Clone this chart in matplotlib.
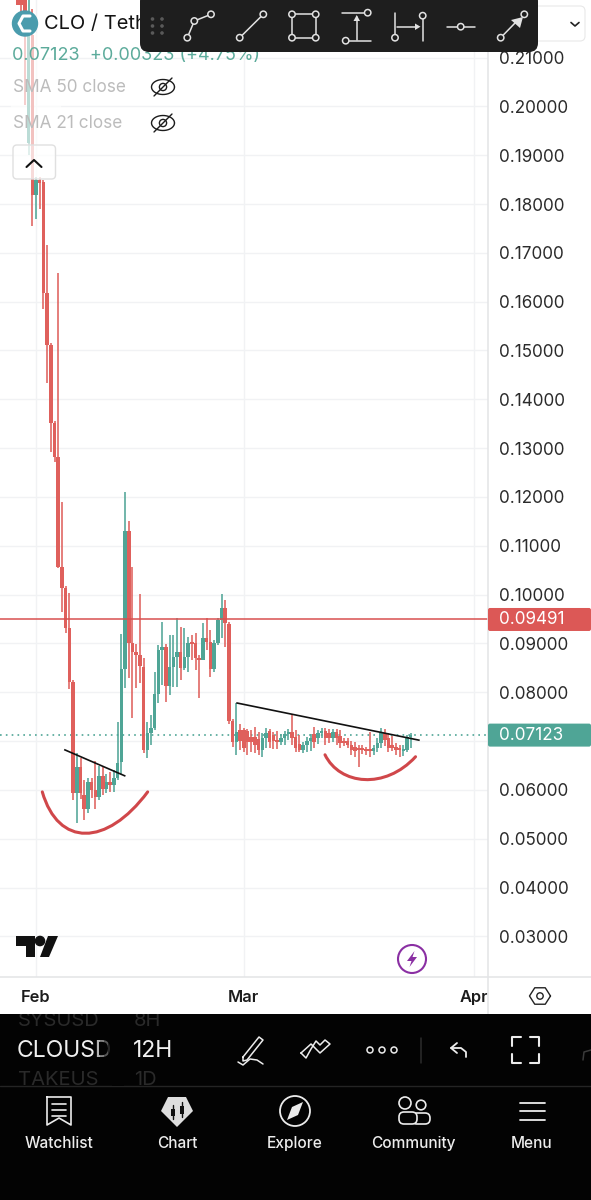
#!/usr/bin/python3
# CLO / Tether 12H candles, phone screenshot layout

import matplotlib
matplotlib.use('Agg')
import matplotlib.pyplot as plt
import matplotlib.patches as mpatches
from matplotlib.path import Path
import numpy as np

plt.rcParams['font.family'] = ['Inter', 'DejaVu Sans']

# candle number, 0 is Feb 1st, two candles a day
first_candle = -5

opens = [.2300, .2300, .2280, .1925, .2146, .1818, .1849, .1845, .1618, .1511,
         .1351, .1282, .1057, .1014, .0932, .0821, .0594, .0647, .0590, .0561,
         .0616, .0600, .0585, .0628, .0602, .0616, .0610, .0624, .0657, .0848,
         .1130, .0901, .0883, .0876, .0852, .0682, .0717, .0727, .0796, .0887,
         .0893, .0813, .0852, .0872, .0883, .0850, .0872, .0903, .0901, .0870,
         .0866, .0911, .0903, .0848, .0901, .0948, .0973, .0940, .0741, .0698,
         .0723, .0723, .0721, .0709, .0709, .0704, .0682, .0707, .0721, .0713,
         .0702, .0698, .0707, .0715, .0719, .0709, .0694, .0682, .0692, .0700,
         .0715, .0707, .0717, .0721, .0717, .0707, .0719, .0711, .0700, .0700,
         .0692, .0688, .0686, .0686, .0684, .0682, .0680, .0686, .0696, .0717,
         .0707, .0692, .0688, .0686, .0680, .0682, .0709]
highs = [.2350, .2350, .2350, .2300, .2200, .1855, .1855, .1850, .1716, .1515,
         .1355, .1659, .1190, .1018, .1003, .0825, .0675, .0665, .0620, .0624,
         .0624, .0659, .0649, .0647, .0632, .0637, .0641, .0739, .0919, .1210,
         .1151, .1057, .0899, .1001, .0870, .0739, .0753, .0841, .0897, .0944,
         .0899, .0917, .0917, .0952, .0934, .0932, .0913, .0917, .0921, .0876,
         .0942, .0952, .0928, .0907, .0952, .1001, .0989, .0944, .0745, .0778,
         .0735, .0727, .0725, .0723, .0729, .0719, .0717, .0727, .0725, .0719,
         .0721, .0715, .0721, .0725, .0753, .0723, .0713, .0698, .0709, .0715,
         .0729, .0723, .0727, .0727, .0725, .0725, .0725, .0723, .0707, .0707,
         .0700, .0698, .0692, .0692, .0688, .0719, .0692, .0707, .0727, .0725,
         .0717, .0711, .0696, .0692, .0692, .0713, .0717]
lows = [.2208, .2150, .2003, .1900, .1755, .1769, .1790, .1585, .1433, .1292,
        .1272, .1055, .0964, .0921, .0807, .0579, .0532, .0581, .0538, .0553,
        .0583, .0561, .0579, .0590, .0594, .0596, .0596, .0620, .0632, .0809,
        .0829, .0747, .0809, .0819, .0676, .0665, .0692, .0723, .0778, .0815,
        .0780, .0794, .0811, .0811, .0825, .0846, .0841, .0866, .0846, .0788,
        .0866, .0887, .0831, .0841, .0897, .0911, .0893, .0735, .0688, .0672,
        .0682, .0678, .0672, .0678, .0676, .0672, .0667, .0686, .0686, .0684,
        .0684, .0692, .0692, .0702, .0692, .0678, .0678, .0676, .0678, .0680,
        .0686, .0694, .0707, .0692, .0696, .0698, .0692, .0686, .0690, .0686,
        .0672, .0667, .0647, .0674, .0672, .0667, .0672, .0678, .0686, .0690,
        .0678, .0680, .0672, .0667, .0670, .0678, .0686]
closes = [.2208, .2208, .2190, .2146, .1818, .1849, .1843, .1618, .1511, .1351,
          .1282, .1057, .1014, .0932, .0821, .0594, .0647, .0594, .0561, .0616,
          .0600, .0585, .0628, .0602, .0616, .0610, .0624, .0655, .0848, .1130,
          .0901, .0883, .0876, .0854, .0682, .0717, .0727, .0796, .0887, .0893,
          .0813, .0852, .0872, .0883, .0850, .0872, .0901, .0899, .0870, .0866,
          .0911, .0903, .0848, .0901, .0948, .0973, .0942, .0741, .0698, .0719,
          .0700, .0686, .0698, .0698, .0692, .0682, .0707, .0717, .0698, .0700,
          .0698, .0707, .0715, .0719, .0707, .0686, .0682, .0692, .0700, .0707,
          .0698, .0717, .0721, .0707, .0707, .0719, .0707, .0696, .0696, .0692,
          .0682, .0680, .0682, .0682, .0680, .0680, .0686, .0696, .0717, .0702,
          .0686, .0686, .0682, .0682, .0684, .0709, .07123]

price_ticks = [.03, .04, .05, .06, .07, .08, .09, .10, .11, .12, .13, .14, .15,
               .16, .17, .18, .19, .20, .21]
month_ticks = [0, 56, 118]
month_labels = ['Feb', 'Mar', 'Apr']
last_price = 0.07123
level_price = 0.09491

# hand drawn lines on the chart (candle number, price)
trend_a_x = [7.8, 23.9]
trend_a_y = [.0682, .0629]
trend_b_x = [54.2, 103.2]
trend_b_y = [.0778, .0702]
bowl_a_x = [1.7, 6.0, 19.0, 30.1]
bowl_a_y = [.0596, .0483, .0483, .0596]
bowl_b_x = [77.9, 81.9, 94.1, 102.3]
bowl_b_y = [.0672, .0610, .0600, .0668]

nav_labels = ['Watchlist', 'Chart', 'Explore', 'Community', 'Menu']

RED = '#df605c'
GREEN = '#4fa596'
LINE_RED = '#d9504f'
CURVE_RED = '#d0474a'
GRID = '#f1f2f4'
BORDER = '#e3e4e6'
ICON = '#e2e2e2'

Y_TOP = 0.22178
Y_BOTTOM = 0.02169


def priceToPx(price):
    return (Y_TOP - price) / (Y_TOP - Y_BOTTOM) * 977.0


def drawCandles(ax):
    xs = np.arange(len(opens)) + first_candle
    op, hi, lo, cl = [np.array(a) for a in (opens, highs, lows, closes)]
    colours = [GREEN if c >= o else RED for o, c in zip(op, cl)]
    ax.vlines(xs, lo, hi, colors=colours, linewidth=1.2, alpha=0.95, zorder=3)
    heights = np.maximum(np.abs(cl - op), 0.0004)
    ax.bar(xs, heights, bottom=np.minimum(op, cl), width=0.95, color=colours,
           linewidth=0, zorder=4)


def drawChart(fig):
    ax = fig.add_axes([0, 223 / 1200, 487.5 / 591, 977 / 1200])
    ax.set_xlim(-36 / 3.71, 451.5 / 3.71)
    ax.set_ylim(Y_BOTTOM, Y_TOP)
    for s in ax.spines.values():
        s.set_visible(False)
    ax.yaxis.tick_right()
    ax.set_yticks(price_ticks)
    # the 0.07 label sits behind the last price tag in the app
    ax.set_yticklabels(['' if p == .07 else '%.5f' % p for p in price_ticks],
                       fontsize=12.3, color='#2b2b2b')
    ax.set_xticks(month_ticks)
    ax.set_xticklabels(month_labels, fontsize=11.8, fontweight='semibold', color='#1c1c1c')
    ax.tick_params(axis='y', length=0, pad=8)
    ax.tick_params(axis='x', length=0, pad=9.5)
    ax.grid(True, color=GRID, linewidth=1.0, zorder=0)
    ax.set_axisbelow(True)

    drawCandles(ax)

    ax.axhline(level_price, color=LINE_RED, linewidth=1.1, zorder=5)
    ax.axhline(last_price, color=GREEN, linewidth=1.2, linestyle=(0, (1, 2.5)), zorder=2)
    ax.plot(trend_a_x, trend_a_y, color='#111111', linewidth=1.2, zorder=6)
    ax.plot(trend_b_x, trend_b_y, color='#111111', linewidth=1.2, zorder=6)

    codes = [Path.MOVETO, Path.CURVE4, Path.CURVE4, Path.CURVE4]
    for xs, ys in [(bowl_a_x, bowl_a_y), (bowl_b_x, bowl_b_y)]:
        path = Path(list(zip(xs, ys)), codes)
        ax.add_patch(mpatches.PathPatch(path, fill=False, edgecolor=CURVE_RED,
                                        linewidth=2.2, capstyle='round', zorder=6))
    return ax


def poly(ui, pts, closed=False, z=10, **kw):
    ui.add_patch(mpatches.Polygon(pts, closed=closed, zorder=z, **kw))


def line(ui, xs, ys, color=ICON, lw=1.1, z=12):
    ui.plot(xs, ys, color=color, linewidth=lw, zorder=z, solid_capstyle='round',
            solid_joinstyle='round')


def ring(ui, x, y, r=3.2, color=ICON, lw=1.1, face='#1e1e1e', z=13):
    ui.add_patch(mpatches.Circle((x, y), r, facecolor=face, edgecolor=color, linewidth=lw, zorder=z))


def rounded(ui, x0, y0, x1, y1, rad, z=10, **kw):
    ui.add_patch(mpatches.FancyBboxPatch((x0 + rad, y0 + rad), x1 - x0 - 2 * rad, y1 - y0 - 2 * rad,
                                         boxstyle='round,pad=%g,rounding_size=%g' % (rad, rad),
                                         zorder=z, **kw))


def drawToolbar(ui):
    # dropdown peeking out from behind
    rounded(ui, 520, 6, 585, 41, 5, z=8, facecolor='white', edgecolor='#e8e8e8', linewidth=0.8)
    line(ui, [571, 575, 579], [22.5, 26, 22.5], color='#222222', lw=1.2, z=9)
    rounded(ui, 140, -8, 538, 52, 9, z=10, facecolor='#1e1e1e', edgecolor='none')
    for x in (152.5, 162):
        for y in (19, 26, 33):
            ui.add_patch(mpatches.Circle((x, y), 1.1, color='#5a5a5a', zorder=12))

    line(ui, [187.3, 194.3, 211], [37.7, 21, 14.3])
    for x, y in [(187.3, 37.7), (194.3, 21), (211, 14.3)]:
        ring(ui, x, y)
    line(ui, [239.7, 263.3], [37.7, 14.3])
    ring(ui, 239.7, 37.7)
    ring(ui, 263.3, 14.3)
    line(ui, [292, 315.7, 315.7, 292, 292], [14.3, 14.3, 37.7, 37.7, 14.3])
    for x, y in [(292, 14.3), (315.7, 14.3), (292, 37.7), (315.7, 37.7)]:
        ring(ui, x, y)
    line(ui, [342, 364], [12.7, 12.7])
    ring(ui, 367.7, 12.7)
    line(ui, [349, 370.7], [40.7, 40.7])
    ring(ui, 345.7, 40.7)
    line(ui, [356.7, 356.7], [40, 17])
    poly(ui, [(353.5, 21), (360, 21), (356.7, 15)], closed=True, z=12, facecolor=ICON, edgecolor='none')
    line(ui, [395, 395], [12.7, 35])
    ring(ui, 395, 37.7)
    line(ui, [422.7, 422.7], [18, 40.7])
    ring(ui, 422.7, 15.7)
    line(ui, [397, 416], [26.7, 26.7])
    poly(ui, [(415, 23.5), (415, 30), (420.5, 26.7)], closed=True, z=12, facecolor=ICON, edgecolor='none')
    line(ui, [446.7, 475], [26.7, 26.7])
    ring(ui, 460.7, 26.7)
    line(ui, [500.7, 516], [37.7, 22])
    poly(ui, [(511, 20), (520, 28), (523, 17)], closed=True, z=12, facecolor=ICON, edgecolor='none')
    ring(ui, 500.7, 37.7)
    ring(ui, 524.3, 14.3)


def drawEye(ui, y):
    x = 163
    t = np.linspace(0, 2 * np.pi, 40)
    line(ui, x + 11.5 * np.cos(t), y + 7.5 * np.sin(t), color='#1c1c1c', lw=1.0, z=9)
    ring(ui, x, y, r=3.6, color='#1c1c1c', lw=1.0, face='none', z=9)
    line(ui, [x - 9, x + 9], [y + 9, y - 9], color='#1c1c1c', lw=1.0, z=9)


def drawHeader(ui):
    ui.add_patch(mpatches.Rectangle((11, 33), 50, 112, facecolor='white', alpha=0.62,
                                    edgecolor='none', zorder=1))
    ui.add_patch(mpatches.Circle((25, 23.5), 12.5, color='#4a9cad', zorder=3))
    line(ui, [30, 23, 19, 23, 30], [16, 16, 23.5, 31, 31], color='white', lw=2.2, z=4)
    ui.text(43.5, 24, 'CLO / Tether', fontsize=14.4, color='#141414', va='center', zorder=3)
    ui.text(12, 56, '0.07123  +0.00323 (+4.75%)', fontsize=13, color='#5cab9b',
            va='center', zorder=3)
    ui.text(13, 87, 'SMA 50 close', fontsize=12.4, color='#bcbcbc', va='center', zorder=3)
    ui.text(13, 123, 'SMA 21 close', fontsize=12.4, color='#bcbcbc', va='center', zorder=3)
    drawEye(ui, 87)
    drawEye(ui, 123)
    rounded(ui, 13, 145, 55.5, 179, 4, z=3, facecolor=(1, 1, 1, 0.78), edgecolor='#e0e0e0', linewidth=1.0)
    line(ui, [26.5, 34, 41.5], [167, 160, 167], color='#111111', lw=1.5, z=4)

    # TradingView mark and the bolt
    poly(ui, [(16, 936), (35, 936), (35, 957), (26, 957), (26, 946), (16, 946)], closed=True,
         z=4, facecolor='#111111', edgecolor='none')
    ui.add_patch(mpatches.Circle((40, 941), 4.6, color='#111111', zorder=4))
    poly(ui, [(48, 936), (58, 936), (49, 957), (40, 957)], closed=True, z=4,
         facecolor='#111111', edgecolor='none')
    ui.add_patch(mpatches.Circle((412, 959), 14, facecolor='white', edgecolor='#8a2fa3',
                                 linewidth=1.5, zorder=4))
    poly(ui, [(414.5, 951), (407, 961), (411.5, 961), (409.5, 967), (417, 957), (412.5, 957)],
         closed=True, z=5, facecolor='#8a2fa3', edgecolor='none')


def drawAxesFrame(ui):
    ui.add_patch(mpatches.Rectangle((488, 978), 103, 36, facecolor='white', edgecolor='none', zorder=1))
    line(ui, [0, 591], [977, 977], color=BORDER, lw=1.1, z=2)
    line(ui, [488, 488], [0, 1014], color=BORDER, lw=1.1, z=2)
    # settings hexagon
    t = np.radians(np.arange(0, 361, 60))
    line(ui, 540 + 10.5 * np.cos(t), 996 + 9.5 * np.sin(t), color='#222222', lw=1.0, z=3)
    ring(ui, 540, 996, r=3.2, color='#222222', lw=1.0, face='white', z=3)

    for price, colour in [(level_price, '#dc5856'), (last_price, GREEN)]:
        y = priceToPx(price)
        rounded(ui, 488, y - 11.5, 591, y + 11.5, 2, z=3, facecolor=colour, edgecolor='none')
        ui.text(499, y, '%.5f' % price, fontsize=12.3, color='white', va='center', zorder=4)


def drawBottomBar(ui):
    panel = mpatches.Rectangle((0, 1014), 591, 186, facecolor='#030303', edgecolor='none', zorder=6)
    ui.add_patch(panel)
    row = '#2a2a2a'
    for txt, x, y, colour, size in [('SYSUSD', 18, 1021, row, 14.5), ('8H', 134, 1021, row, 14.5),
                                    ('CLOUSD', 17, 1051, '#f0f0f0', 16.5), ('12H', 133, 1051, '#f0f0f0', 16.5),
                                    ('TAKEUS', 18, 1080, row, 14.5), ('1D', 134, 1080, row, 14.5)]:
        t = ui.text(x, y, txt, fontsize=size, color=colour, va='center', zorder=7, clip_on=True)
        t.set_clip_path(panel)
    for k, a in enumerate([0.25, 0.45, 0.65, 0.85]):
        ui.add_patch(mpatches.Rectangle((96 + k * 4, 1040), 4, 22, facecolor='#030303', alpha=a,
                                        edgecolor='none', zorder=8))
    ui.add_patch(mpatches.Rectangle((112, 1016), 12, 70, facecolor='#030303', edgecolor='none', zorder=8))
    line(ui, [0, 591], [1086, 1086], color='#242424', lw=1.0, z=7)

    c = '#ececec'
    # pen
    line(ui, [243, 259, 263, 247, 243, 243], [1057, 1037, 1040, 1060, 1061, 1057], color=c, z=9)
    line(ui, [238, 243, 250, 257, 263], [1062, 1065, 1059, 1060, 1064], color=c, z=9)
    # double chevron
    line(ui, [301, 311, 316, 320, 330, 325, 320, 316, 311, 306, 301],
         [1053, 1044, 1049, 1053, 1044, 1040, 1045, 1041, 1049, 1058, 1053], color=c, z=9)
    for x in (370, 382, 394):
        ring(ui, x, 1050, r=3.0, color=c, lw=1.1, face='#030303', z=9)
    line(ui, [421, 421], [1038, 1063], color='#2c2c2c', z=9)
    # undo
    line(ui, [466, 466, 461, 451], [1057, 1052, 1048, 1048], color=c, lw=1.3, z=9)
    line(ui, [457, 451, 457], [1043, 1048, 1053], color=c, lw=1.3, z=9)
    # fullscreen corners
    for sx, sy, cx, cy in [(1, 1, 512, 1037), (-1, 1, 539, 1037), (1, -1, 512, 1063), (-1, -1, 539, 1063)]:
        line(ui, [cx + sx * 9, cx, cx, cx], [cy, cy, cy, cy + sy * 9], color=c, lw=1.5, z=9)
    line(ui, [583, 584, 591], [1060, 1052, 1050], color='#3a3a3a', z=9)

    for label, x in zip(nav_labels, [59, 177, 295, 413, 532]):
        ui.text(x, 1142, label, fontsize=11.1, fontweight='medium', color='#ededed', ha='center',
                va='center_baseline', zorder=9)

    # watchlist
    line(ui, [47, 71, 71, 59, 47, 47], [1097, 1097, 1125, 1118, 1125, 1097], color=c, lw=1.2, z=9)
    for y in (1104, 1110, 1116):
        line(ui, [52, 66], [y, y], color=c, lw=1.2, z=9)
    # chart
    poly(ui, [(168, 1097), (186, 1097), (193, 1111), (177, 1127), (161, 1111)], closed=True, z=9,
         facecolor='#dedede', edgecolor='none')
    for x, top, bot in [(172.5, 1105, 1119), (182, 1102, 1117)]:
        line(ui, [x, x], [top, bot], color='#111111', lw=1.0, z=10)
        ui.add_patch(mpatches.Rectangle((x - 2, top + 3.5), 4, bot - top - 7, facecolor='#111111',
                                        edgecolor='none', zorder=10))
    # explore
    ring(ui, 295, 1111, r=15, color=c, lw=1.3, face='#030303', z=9)
    poly(ui, [(303, 1102), (298, 1115), (287, 1120), (292, 1107)], closed=True, z=10,
         facecolor=c, edgecolor='none')
    # community
    ring(ui, 405, 1103, r=6, color=c, lw=1.2, face='#030303', z=9)
    ring(ui, 421, 1105, r=4.8, color=c, lw=1.2, face='#030303', z=9)
    rounded(ui, 412, 1113, 430, 1124, 5, z=9, facecolor='#030303', edgecolor=c, linewidth=1.2)
    rounded(ui, 399, 1112, 417, 1124, 5, z=10, facecolor='#030303', edgecolor=c, linewidth=1.2)
    # menu
    for y in (1103, 1111, 1120):
        line(ui, [520, 545], [y, y], color=c, lw=1.3, z=9)


def main():
    fig = plt.figure(figsize=(5.91, 12), dpi=100, facecolor='white')
    drawChart(fig)
    ui = fig.add_axes([0, 0, 1, 1], zorder=5)
    ui.set_xlim(0, 591)
    ui.set_ylim(1200, 0)
    ui.axis('off')
    drawAxesFrame(ui)
    drawHeader(ui)
    drawToolbar(ui)
    drawBottomBar(ui)
    fig.savefig('out.png', dpi=100)


if __name__ == "__main__":
    main()
